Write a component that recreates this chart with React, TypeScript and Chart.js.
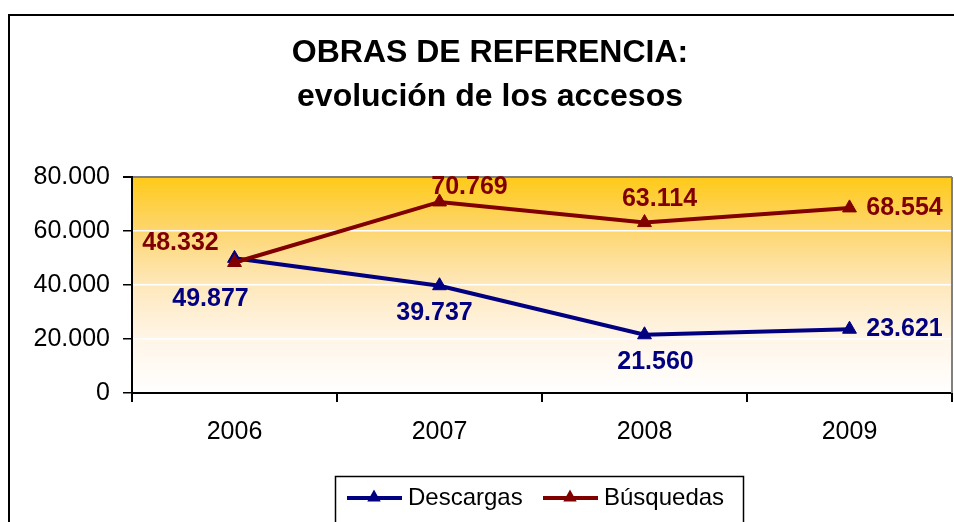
import { useEffect, useRef } from 'react';
import { Chart, registerables } from 'chart.js';

Chart.register(...registerables);

// ---- data ----
const years = ['2006', '2007', '2008', '2009'];
const seriesNames = ['Descargas', 'Búsquedas'];
const descargas = [49877, 39737, 21560, 23621];
const busquedas = [48332, 70769, 63114, 68554];
const yTickValues = [0, 20000, 40000, 60000, 80000];
const titleLines = ['OBRAS DE REFERENCIA:', 'evolución de los accesos'];

// ---- styling ----
const FONT = '"Liberation Sans", Arial, sans-serif';
const BLUE = '#000080';
const RED = '#800000';

// label offsets (pixels, relative to each point)
const descargasLabelOffsets = [[-24, 41], [-5, 27], [11, 27], [55, 0]];
const busquedasLabelOffsets = [[-54, -19], [30, -15], [15, -23], [55, 0]];

const fmt = (v: number) => {
  const s = Math.round(v).toString();
  return s.replace(/\B(?=(\d{3})+(?!\d))/g, '.');
};

const drawTriangle = (ctx: CanvasRenderingContext2D, x: number, y: number, r: number, color: string) => {
  ctx.save();
  ctx.fillStyle = color;
  ctx.beginPath();
  ctx.moveTo(x, y - r);
  ctx.lineTo(x + r * 0.9, y + r * 0.6);
  ctx.lineTo(x - r * 0.9, y + r * 0.6);
  ctx.closePath();
  ctx.fill();
  ctx.restore();
};

const decorPlugin = {
  id: 'decor',
  beforeDraw(chart: any) {
    const { ctx, chartArea } = chart;
    ctx.save();
    ctx.fillStyle = '#ffffff';
    ctx.fillRect(0, 0, chart.width, chart.height);
    // outer frame
    ctx.strokeStyle = '#000000';
    ctx.lineWidth = 2;
    ctx.strokeRect(9, 15, 1100, 1100);
    // plot area gradient
    const g = ctx.createLinearGradient(0, chartArea.top, 0, chartArea.bottom);
    g.addColorStop(0, '#FFCA18');
    g.addColorStop(0.25, '#FDD670');
    g.addColorStop(0.5, '#FEE8BC');
    g.addColorStop(0.75, '#FFF5E8');
    g.addColorStop(1, '#FFFFFF');
    ctx.fillStyle = g;
    ctx.fillRect(chartArea.left, chartArea.top, chartArea.right - chartArea.left, chartArea.bottom - chartArea.top);
    ctx.restore();
  },
  beforeDatasetsDraw(chart: any) {
    const { ctx, chartArea } = chart;
    ctx.save();
    ctx.strokeStyle = '#808080';
    ctx.lineWidth = 2;
    ctx.beginPath();
    ctx.moveTo(chartArea.right, chartArea.top);
    ctx.lineTo(chartArea.right, chartArea.bottom);
    ctx.stroke();
    ctx.restore();
  },
  afterDraw(chart: any) {
    const { ctx } = chart;
    ctx.save();
    // title
    ctx.fillStyle = '#000';
    ctx.textAlign = 'center';
    ctx.textBaseline = 'middle';
    ctx.font = `bold 32px ${FONT}`;
    ctx.fillText(titleLines[0], 490, 53);
    ctx.fillText(titleLines[1], 490, 97);

    // data labels
    ctx.font = `bold 25px ${FONT}`;
    const offsets = [descargasLabelOffsets, busquedasLabelOffsets];
    const colors = [BLUE, RED];
    chart.data.datasets.forEach((ds: any, di: number) => {
      const meta = chart.getDatasetMeta(di);
      meta.data.forEach((pt: any, i: number) => {
        const [dx, dy] = offsets[di][i];
        ctx.fillStyle = colors[di];
        ctx.fillText(fmt(ds.data[i]), pt.x + dx, pt.y + dy);
      });
    });

    // legend
    ctx.strokeStyle = '#000';
    ctx.lineWidth = 1.5;
    ctx.strokeRect(335.5, 476.5, 408, 80);
    const items = [
      { name: seriesNames[0], color: BLUE, x0: 347 },
      { name: seriesNames[1], color: RED, x0: 543 },
    ];
    const ly = 498;
    ctx.font = `24px ${FONT}`;
    ctx.textAlign = 'left';
    items.forEach((it) => {
      ctx.strokeStyle = it.color;
      ctx.lineWidth = 4;
      ctx.beginPath();
      ctx.moveTo(it.x0, ly);
      ctx.lineTo(it.x0 + 55, ly);
      ctx.stroke();
      drawTriangle(ctx, it.x0 + 27, ly - 1, 7.5, it.color);
      ctx.fillStyle = '#000';
      ctx.fillText(it.name, it.x0 + 61, ly);
    });
    ctx.restore();
  },
};

export default function App() {
  const ref = useRef<HTMLCanvasElement>(null);
  useEffect(() => {
    if (!ref.current) return;
    const chart = new Chart(ref.current, {
      type: 'line',
      data: {
        labels: years,
        datasets: [
          {
            label: seriesNames[0],
            data: descargas,
            borderColor: BLUE,
            backgroundColor: BLUE,
            pointBackgroundColor: BLUE,
            pointBorderColor: BLUE,
            borderWidth: 4,
            pointStyle: 'triangle',
            pointRadius: 8,
            pointBorderWidth: 1,
            tension: 0,
            order: 2,
          },
          {
            label: seriesNames[1],
            data: busquedas,
            borderColor: RED,
            backgroundColor: RED,
            pointBackgroundColor: RED,
            pointBorderColor: RED,
            borderWidth: 4,
            pointStyle: 'triangle',
            pointRadius: 8,
            pointBorderWidth: 1,
            tension: 0,
            order: 1,
          },
        ],
      },
      options: {
        responsive: false,
        animation: false,
        devicePixelRatio: 1,
        layout: { autoPadding: false, padding: { top: 177, left: 0, right: 2, bottom: 0 } },
        plugins: {
          legend: { display: false },
          title: { display: false },
          tooltip: { enabled: false },
        },
        scales: {
          x: {
            type: 'category',
            offset: true,
            afterFit: (s: any) => { s.height = 129; s.paddingLeft = 0; s.paddingRight = 0; },
            grid: {
              offset: true,
              drawOnChartArea: false,
              drawTicks: true,
              tickLength: 9,
              tickColor: '#000',
              lineWidth: 2,
            },
            border: { display: true, color: '#000', width: 2 },
            ticks: {
              color: '#000',
              font: { family: FONT, size: 25 },
              padding: 15,
              maxRotation: 0,
              autoSkip: false,
            },
          },
          y: {
            min: 0,
            max: 80000,
            afterFit: (s: any) => { s.width = 132; s.paddingTop = 0; s.paddingBottom = 0; },
            afterBuildTicks: (s: any) => { s.ticks = yTickValues.map((v) => ({ value: v })); },
            grid: {
              color: (c: any) => {
                const v = c.tick ? c.tick.value : null;
                if (v === 0) return 'rgba(0,0,0,0)';
                if (v === 80000) return '#808080';
                return '#ffffff';
              },
              lineWidth: (c: any) => (c.tick && c.tick.value === 80000 ? 2 : 1.5),
              tickColor: '#000',
              tickLength: 9,
              drawTicks: true,
            },
            border: { display: true, color: '#000', width: 2 },
            ticks: {
              color: '#000',
              font: { family: FONT, size: 25 },
              padding: 13,
              callback: (v: any) => fmt(Number(v)),
            },
          },
        },
      },
      plugins: [decorPlugin],
    });
    return () => chart.destroy();
  }, []);

  return (
    <div style={{ position: 'absolute', left: 0, top: 0, width: 954, height: 522, overflow: 'hidden' }}>
      <canvas ref={ref} width={954} height={522} style={{ display: 'block' }} />
    </div>
  );
}
